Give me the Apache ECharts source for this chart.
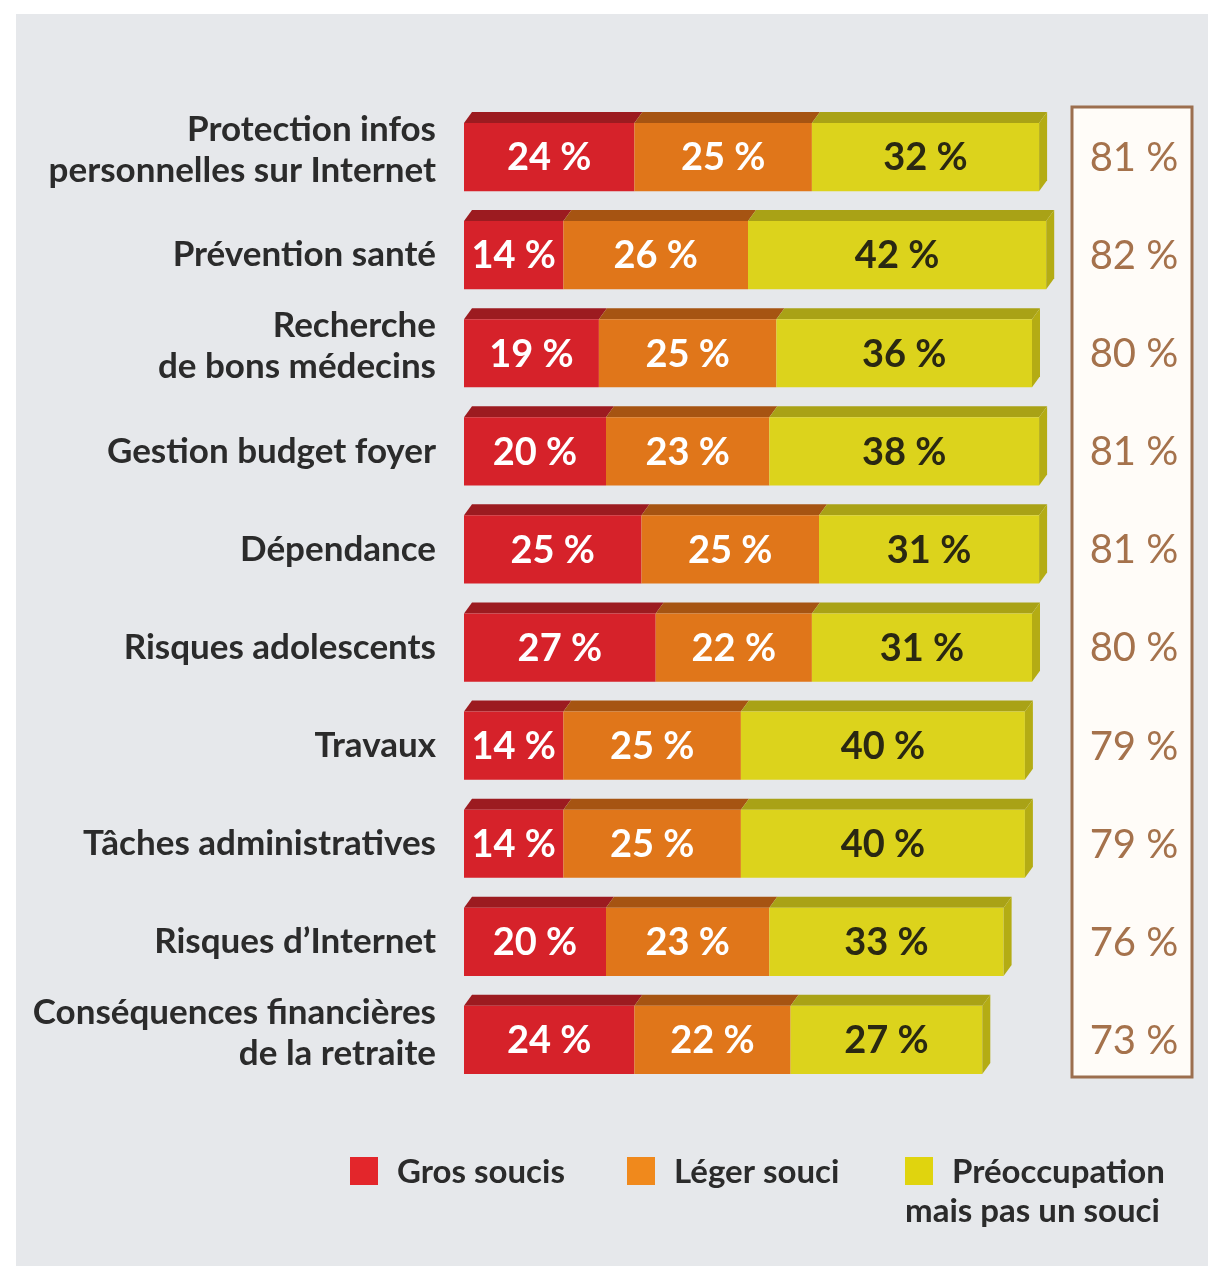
<!DOCTYPE html>
<html>
<head>
<meta charset="utf-8">
<script src="https://cdn.jsdelivr.net/npm/echarts@6/dist/echarts.min.js"></script>
<style>
  html, body { margin: 0; padding: 0; background: #fff; }
  #chart { width: 1218px; height: 1266px; }
</style>
</head>
<body>
<div id="chart"></div>
<script>
// catégories (de haut en bas)
const categories = [
  'Protection infos\npersonnelles sur Internet',
  'Prévention santé',
  'Recherche\nde bons médecins',
  'Gestion budget foyer',
  'Dépendance',
  'Risques adolescents',
  'Travaux',
  'Tâches administratives',
  'Risques d’Internet',
  'Conséquences financières\nde la retraite'
]
const grosSoucis = [24, 14, 19, 20, 25, 27, 14, 14, 20, 24]
const legerSouci = [25, 26, 25, 23, 25, 22, 25, 25, 23, 22]
const preoccupation = [32, 42, 36, 38, 31, 31, 40, 40, 33, 27]
const totals = [81, 82, 80, 81, 81, 80, 79, 79, 76, 73]
const seriesNames = ['Gros soucis', 'Léger souci', 'Préoccupation', 'mais pas un souci']

const FONT = 'Lato, "Liberation Sans", sans-serif'

// couleurs : face avant, dessus, côté, texte
const styles = [
  { front: '#d6222a', top: '#9c1b20', side: '#9c1b20', text: '#ffffff', legend: '#e3262b' },
  { front: '#e0761a', top: '#a65412', side: '#a65412', text: '#ffffff', legend: '#f0891c' },
  { front: '#dcd31c', top: '#a9a216', side: '#b4ac14', text: '#2a2812', legend: '#e0d40e' }
]

const chartDom = document.getElementById('chart')
const myChart = echarts.init(chartDom)

// segments empilés : [début, fin, ligne, valeur]
function buildSegments(values, offsets) {
  return values.map((v, i) => [offsets[i], offsets[i] + v, i, v])
}
const off0 = grosSoucis.map(() => 0)
const off1 = grosSoucis.slice()
const off2 = grosSoucis.map((v, i) => v + legerSouci[i])

const DX = 8
const DY = 11

function segRender(k, isLast) {
  return function (params, api) {
    const start = api.value(0)
    const end = api.value(1)
    const row = api.value(2)
    const val = api.value(3)
    const p0 = api.coord([start, row])
    const p1 = api.coord([end, row])
    const h = api.size([0, 1])[1] * 0.695
    const yT = p0[1] - h / 2
    const yB = p0[1] + h / 2
    const st = styles[k]
    const children = [
      {
        type: 'polygon',
        shape: { points: [[p0[0], yT], [p0[0] + DX, yT - DY], [p1[0] + DX, yT - DY], [p1[0], yT]] },
        style: { fill: st.top }
      },
      {
        type: 'rect',
        shape: { x: p0[0], y: yT, width: p1[0] - p0[0], height: h },
        style: { fill: st.front }
      }
    ]
    if (isLast) {
      children.push({
        type: 'polygon',
        shape: { points: [[p1[0], yT], [p1[0] + DX, yT - DY], [p1[0] + DX, yB - DY], [p1[0], yB]] },
        style: { fill: st.side }
      })
    }
    children.push({
      type: 'text',
      x: (p0[0] + p1[0]) / 2,
      y: p0[1] + 1,
      style: {
        text: val + ' %',
        fill: st.text,
        font: 'bold 38px ' + FONT,
        align: 'center',
        verticalAlign: 'middle'
      }
    })
    return { type: 'group', children: children }
  }
}

function totalRender(params, api) {
  const row = api.value(1)
  const p = api.coord([0, row])
  return {
    type: 'text',
    x: 1134,
    y: p[1] + 1,
    style: {
      text: api.value(2) + ' %',
      fill: '#a5724c',
      font: '40px ' + FONT,
      align: 'center',
      verticalAlign: 'middle'
    }
  }
}

const legendItems = []
const legendX = [350, 627, 905]
for (let k = 0; k < 3; k++) {
  legendItems.push({
    type: 'rect',
    shape: { x: legendX[k], y: 1157, width: 28, height: 28 },
    style: { fill: styles[k].legend }
  })
  legendItems.push({
    type: 'text',
    x: legendX[k] + 47,
    y: 1172,
    style: {
      text: seriesNames[k],
      fill: '#2b2b2b',
      font: 'bold 33px ' + FONT,
      verticalAlign: 'middle'
    }
  })
}
legendItems.push({
  type: 'text',
  x: 905,
  y: 1211,
  style: {
    text: seriesNames[3],
    fill: '#2b2b2b',
    font: 'bold 33px ' + FONT,
    verticalAlign: 'middle'
  }
})

const option = {
  animation: false,
  backgroundColor: '#ffffff',
  grid: { left: 464, right: 44, top: 108, bottom: 177 },
  xAxis: {
    type: 'value',
    min: 0,
    max: 100,
    show: false
  },
  yAxis: {
    type: 'category',
    data: categories,
    inverse: true,
    axisLine: { show: false },
    axisTick: { show: false },
    splitLine: { show: false },
    axisLabel: {
      margin: 28,
      color: '#2b2b2b',
      fontSize: 35,
      fontWeight: 'bold',
      fontFamily: FONT,
      lineHeight: 41,
      align: 'right',
      // les libellés sur deux lignes sont un peu remontés
      formatter: v => (v.indexOf('\n') >= 0 ? v + '\n{s| }' : v),
      rich: {
        s: { fontSize: 1, lineHeight: 14 }
      }
    }
  },
  graphic: [
    {
      type: 'rect',
      z: -10,
      shape: { x: 16, y: 14, width: 1192, height: 1252 },
      style: { fill: '#e6e8eb' }
    },
    {
      type: 'rect',
      z: -5,
      shape: { x: 1072, y: 107, width: 120, height: 970 },
      style: { fill: '#fffcf8', stroke: '#9c6f4f', lineWidth: 3 }
    }
  ].concat(legendItems),
  series: [
    {
      type: 'custom',
      name: seriesNames[0],
      renderItem: segRender(0, false),
      encode: { x: [0, 1], y: 2 },
      data: buildSegments(grosSoucis, off0)
    },
    {
      type: 'custom',
      name: seriesNames[1],
      renderItem: segRender(1, false),
      encode: { x: [0, 1], y: 2 },
      data: buildSegments(legerSouci, off1)
    },
    {
      type: 'custom',
      name: seriesNames[2],
      renderItem: segRender(2, true),
      encode: { x: [0, 1], y: 2 },
      data: buildSegments(preoccupation, off2)
    },
    {
      type: 'custom',
      name: 'Total',
      renderItem: totalRender,
      encode: { x: 0, y: 1 },
      data: totals.map((t, i) => [0, i, t])
    }
  ]
}

myChart.setOption(option)
</script>
</body>
</html>
